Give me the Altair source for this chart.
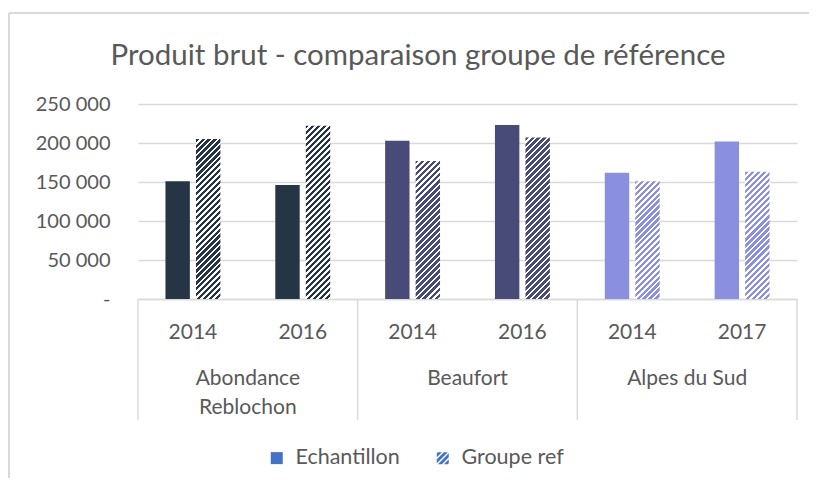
import altair as alt
import pandas as pd

# ---------------- data ----------------
groups = ["Abondance Reblochon", "Beaufort", "Alpes du Sud"]
group_labels = ["Abondance\nReblochon", "Beaufort", "Alpes du Sud"]
years = [["2014", "2016"], ["2014", "2016"], ["2014", "2017"]]
series = ["Echantillon", "Groupe ref"]
echantillon = [151000, 146000, 203000, 223000, 162000, 202000]
groupe_ref = [205000, 222000, 177000, 207000, 151000, 163000]
group_colors = ["#253546", "#484a77", "#8b8fdf"]
legend_color = "#4472C4"
y_ticks = [0, 50000, 100000, 150000, 200000, 250000]
y_max = 250000
title_text = "Produit brut - comparaison groupe de référence"

# ---------------- layout / style ----------------
W, H = 659, 195
FONT = "Lato"
TXT = "#595959"
GRID = "#d9d9d9"
PAD_INNER, PAD_OUTER = 0.5, 0.25
OFF_INNER = 0.2
HATCH_PERIOD = 6.0  # px, measured along x+y
HATCH_DARK = 0.55   # share of each period that is coloured

keys, key_group, key_year = [], [], []
for gi, g in enumerate(groups):
    for yr in years[gi]:
        keys.append(f"{g}|{yr}")
        key_group.append(g)
        key_year.append(yr)

rows = []
for i, k in enumerate(keys):
    rows.append(dict(key=k, group=key_group[i], year=key_year[i], serie=series[0], value=echantillon[i]))
    rows.append(dict(key=k, group=key_group[i], year=key_year[i], serie=series[1], value=groupe_ref[i]))
df = pd.DataFrame(rows)

# group boundaries and centres in category-index units
bounds, centres = [0], []
for gi in range(len(groups)):
    n = len(years[gi])
    centres.append(bounds[-1] + n / 2)
    bounds.append(bounds[-1] + n)
sep_df = pd.DataFrame({"pos": bounds})
lab_df = pd.DataFrame({"pos": centres, "label": group_labels})

# ---------------- encodings ----------------
x_enc = alt.X(
    "key:N",
    scale=alt.Scale(domain=keys, paddingInner=PAD_INNER, paddingOuter=PAD_OUTER),
    axis=alt.Axis(
        labelExpr="split(datum.value, '|')[1]",
        labelAngle=0,
        labelFont=FONT,
        labelFontSize=21,
        labelColor=TXT,
        labelPadding=22,
        ticks=False,
        tickSize=0,
        domain=True,
        domainColor=GRID,
        domainWidth=1.4,
        grid=False,
    ),
    title=None,
)
xoff_enc = alt.XOffset("serie:N", scale=alt.Scale(domain=series, paddingInner=OFF_INNER, paddingOuter=0))
y_enc = alt.Y(
    "value:Q",
    scale=alt.Scale(domain=[0, y_max], nice=False),
    axis=alt.Axis(
        values=y_ticks,
        labelExpr="datum.value == 0 ? '-\u00a0\u00a0\u00a0' : replace(format(datum.value, ','), ',', ' ')",
        labelFont=FONT,
        labelFontSize=20,
        labelColor=TXT,
        labelPadding=28,
        ticks=False,
        tickSize=0,
        domain=False,
        grid=True,
        gridColor=GRID,
        gridWidth=1.4,
    ),
    title=None,
)

# ---------------- bars ----------------
ech = (
    alt.Chart(df)
    .transform_filter(alt.datum.serie == series[0])
    .mark_bar()
    .encode(
        x=x_enc,
        xOffset=xoff_enc,
        y=y_enc,
        color=alt.Color("group:N", scale=alt.Scale(domain=groups, range=group_colors), legend=None),
    )
)

step = W / (len(keys) - PAD_INNER + 2 * PAD_OUTER)
band = step * (1 - PAD_INNER)
bar_w = band / (len(series) - OFF_INNER) * (1 - OFF_INNER)


def hatch_gradient(value, color):
    h = value / y_max * H
    k = h / bar_w
    a = (1 + k) / (1 + k * k)
    n = max(1, int(round((bar_w + h) / HATCH_PERIOD)))
    stops = []
    for i in range(n):
        o0, o1, o2 = i / n, (i + HATCH_DARK) / n, (i + 1) / n
        stops += [
            alt.GradientStop(offset=o0, color=color),
            alt.GradientStop(offset=o1, color=color),
            alt.GradientStop(offset=o1, color="#ffffff"),
            alt.GradientStop(offset=o2, color="#ffffff"),
        ]
    return alt.LinearGradient(gradient="linear", stops=stops, x1=0, y1=0, x2=a, y2=a * k)


ref_layers = []
for i, k in enumerate(keys):
    col = group_colors[groups.index(key_group[i])]
    ref_layers.append(
        alt.Chart(df)
        .transform_filter((alt.datum.serie == series[1]) & (alt.datum.key == k))
        .mark_bar(fill=hatch_gradient(groupe_ref[i], col))
        .encode(x=x_enc, xOffset=xoff_enc, y=y_enc)
    )


# ---------------- legend (shape legend with a hatch symbol) ----------------
def clip(poly, a, b, c):
    # keep points with a*x + b*y <= c
    out = []
    for j in range(len(poly)):
        p, q = poly[j], poly[(j + 1) % len(poly)]
        fp = a * p[0] + b * p[1] - c
        fq = a * q[0] + b * q[1] - c
        if fp <= 0:
            out.append(p)
        if fp * fq < 0:
            t = fp / (fp - fq)
            out.append((p[0] + t * (q[0] - p[0]), p[1] + t * (q[1] - p[1])))
    return out


hatch_parts = []
for c1, c2 in [(-1.8, -1.15), (-0.8, -0.15), (0.2, 0.85), (1.2, 1.85)]:
    poly = [(-1, -1), (1, -1), (1, 1), (-1, 1)]
    poly = clip(poly, -1, -1, -c1)
    poly = clip(poly, 1, 1, c2)
    if len(poly) >= 3:
        hatch_parts.append("M" + "L".join(f"{x:.3f},{y:.3f}" for x, y in poly) + "Z")
hatch_path = " ".join(hatch_parts)

legend_layer = (
    alt.Chart(df)
    .mark_point(filled=True, opacity=0, color=legend_color, size=144)
    .encode(
        x=x_enc,
        xOffset=xoff_enc,
        y=y_enc,
        shape=alt.Shape(
            "serie:N",
            scale=alt.Scale(domain=series, range=["square", hatch_path]),
            legend=alt.Legend(
                title=None,
                orient="none",
                direction="horizontal",
                legendX=128,
                legendY=343,
                labelFont=FONT,
                labelFontSize=21.5,
                labelColor=TXT,
                labelOffset=8,
                columnPadding=32,
                symbolSize=144,
                symbolOpacity=1,
                symbolFillColor=legend_color,
                symbolStrokeWidth=0,
                labelLimit=300,
                padding=0,
            ),
        ),
    )
)

bars = alt.layer(ech, *ref_layers, legend_layer)

# ---------------- hierarchical axis decorations ----------------
pos_scale = alt.Scale(domain=[bounds[0], bounds[-1]], nice=False, zero=False)
seps = (
    alt.Chart(sep_df)
    .mark_rule(color=GRID, strokeWidth=1.4)
    .encode(x=alt.X("pos:Q", scale=pos_scale, axis=None), y=alt.value(H), y2=alt.value(H + 121))
)
glabels = (
    alt.Chart(lab_df)
    .mark_text(font=FONT, fontSize=21, color=TXT, baseline="top", align="center", lineBreak="\n", lineHeight=29)
    .encode(x=alt.X("pos:Q", scale=pos_scale, axis=None), y=alt.value(264), text="label:N")
)

# ---------------- title and chart frame ----------------
one = pd.DataFrame({"t": [title_text]})
title = (
    alt.Chart(one)
    .mark_text(font=FONT, fontSize=29.5, fontWeight=400, color=TXT, baseline="alphabetic", align="center")
    .encode(x=alt.value(280), y=alt.value(-39), text="t:N")
)
frame_left = alt.Chart(one).mark_rule(color=GRID, strokeWidth=2).encode(
    x=alt.value(-129), y=alt.value(-91), y2=alt.value(H + 200)
)
frame_top = alt.Chart(one).mark_rule(color=GRID, strokeWidth=2).encode(
    x=alt.value(-129), x2=alt.value(W + 40), y=alt.value(-91)
)

chart = (
    alt.layer(bars, seps, glabels, title, frame_left, frame_top)
    .resolve_scale(x="independent")
    .properties(
        width=W,
        height=H,
        padding={"left": 130, "top": 96, "right": 12, "bottom": 179},
        autosize=alt.AutoSizeParams(type="none"),
        background="#ffffff",
    )
    .configure_view(strokeWidth=0)
)

chart.save("out.html", embed_options={"renderer": "svg", "actions": False})
